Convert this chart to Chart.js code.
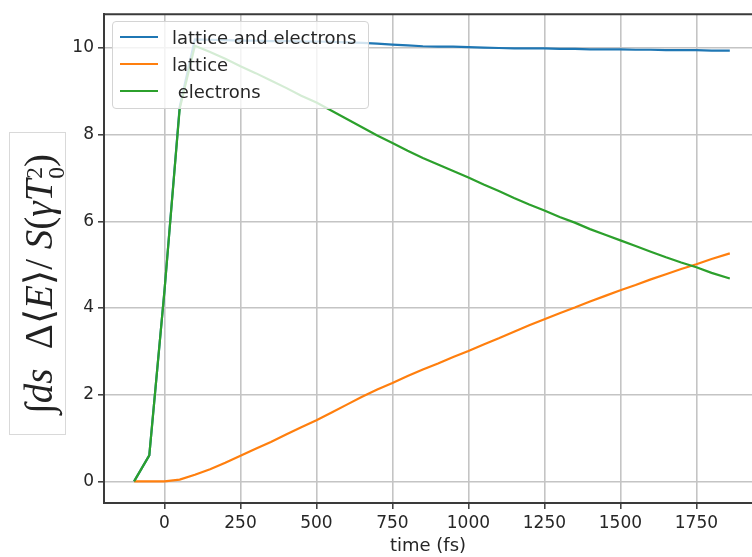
<!DOCTYPE html>
<html>
<head>
<meta charset="utf-8">
<script src="https://cdn.jsdelivr.net/npm/chart.js@4/dist/chart.umd.min.js"></script>
<style>
  html, body { margin: 0; padding: 0; background: #fff; overflow: hidden; }
  #wrap { position: relative; width: 752px; height: 557px; }
  #ylabel-box {
    position: absolute; left: 9px; top: 132px; width: 55px; height: 301px;
    border: 1px solid #d9d9d9; background: #fff;
  }
  #ylabel {
    position: absolute; left: 50%; top: 50%; width: 301px; height: 55px;
    transform: translate(-50%, -50%) rotate(-90deg);
    text-align: center; line-height: 55px; white-space: nowrap;
    font-family: "Liberation Serif", "DejaVu Serif", serif; font-size: 39px; color: #222;
  }
  #ylabel i { font-style: italic; }
  .supsub {
    display: inline-flex; flex-direction: column; vertical-align: 0.42em;
    line-height: 0.95; font-size: 0.6em; text-align: left; margin-left: 1px;
  }
  #legend {
    position: absolute; left: 112px; top: 21px; width: 255px; height: 86px;
    background: rgba(255,255,255,0.8); border: 1px solid #d4d4d4; border-radius: 4px;
    font-family: "DejaVu Sans", sans-serif; font-size: 18px; color: #262626;
  }
  .row { position: absolute; left: 0; height: 27px; line-height: 27px; white-space: pre; }
  .row .swatch { position: absolute; left: 7px; top: 12px; width: 38px; height: 2px; }
  .row .txt { position: absolute; left: 59px; top: 0; }
</style>
</head>
<body>
<div id="wrap">
  <canvas id="chart" width="752" height="557"></canvas>
  <div id="ylabel-box">
    <div id="ylabel">∫<i>ds</i>&nbsp; Δ⟨<i>E</i>⟩/ <i>S</i>(<i>γT</i><span class="supsub"><span>2</span><span>0</span></span>)</div>
  </div>
  <div id="legend"></div>
</div>
<script>
// time axis (fs)
const TIME = [-100, -50, 0, 50, 100, 150, 200, 250, 300, 350, 400, 450, 500, 550, 600, 650,
  700, 750, 800, 850, 900, 950, 1000, 1050, 1100, 1150, 1200, 1250, 1300, 1350, 1400, 1450,
  1500, 1550, 1600, 1650, 1700, 1750, 1800, 1860];

const BOTH = [0, 0.6, 4.4, 8.64, 10.2, 10.19, 10.18, 10.17, 10.17, 10.16, 10.16, 10.15, 10.15,
  10.14, 10.13, 10.12, 10.10, 10.08, 10.06, 10.04, 10.03, 10.03, 10.02, 10.01, 10.0, 9.99,
  9.99, 9.99, 9.98, 9.98, 9.97, 9.97, 9.97, 9.96, 9.96, 9.95, 9.95, 9.95, 9.94, 9.94];

const LATTICE = [0, 0, 0, 0.04, 0.15, 0.28, 0.43, 0.59, 0.75, 0.91, 1.08, 1.25, 1.41, 1.59,
  1.77, 1.95, 2.12, 2.27, 2.43, 2.58, 2.72, 2.87, 3.01, 3.16, 3.30, 3.45, 3.60, 3.74, 3.88,
  4.01, 4.15, 4.28, 4.41, 4.53, 4.66, 4.78, 4.90, 5.01, 5.13, 5.26];

const ELECTRONS = [0, 0.6, 4.4, 8.6, 10.05, 9.91, 9.75, 9.58, 9.42, 9.25, 9.08, 8.90, 8.74,
  8.55, 8.36, 8.17, 7.98, 7.81, 7.63, 7.46, 7.31, 7.16, 7.01, 6.85, 6.70, 6.54, 6.39, 6.25,
  6.10, 5.97, 5.82, 5.69, 5.56, 5.43, 5.30, 5.17, 5.05, 4.94, 4.81, 4.68];

const LABELS = ["lattice and electrons", "lattice", " electrons"];
const COLORS = ["#1f77b4", "#ff7f0e", "#2ca02c"];
const X_TICKS = [0, 250, 500, 750, 1000, 1250, 1500, 1750];
const Y_TICKS = [0, 2, 4, 6, 8, 10];

const SPINE = "#3a3a3a";
const GRID = "#c4c4c4";
const TICK_FONT = { family: "DejaVu Sans", size: 17 };

function series(values) {
  return TIME.map((t, i) => ({ x: t, y: values[i] }));
}

// matplotlib-like top spine (the right one is cropped off in the reference)
const topSpine = {
  id: 'topSpine',
  afterDraw(chart) {
    const { ctx, chartArea } = chart;
    ctx.save();
    ctx.strokeStyle = SPINE;
    ctx.lineWidth = 2;
    ctx.beginPath();
    ctx.moveTo(chartArea.left - 1, chartArea.top);
    ctx.lineTo(chartArea.right, chartArea.top);
    ctx.stroke();
    ctx.restore();
  }
};

const seriesList = [BOTH, LATTICE, ELECTRONS];
const datasets = seriesList.map((vals, i) => ({
  label: LABELS[i],
  data: series(vals),
  borderColor: COLORS[i],
  borderWidth: 2.2,
  pointRadius: 0,
  fill: false,
  tension: 0,
  order: 2 - i   // electrons drawn on top
}));

new Chart(document.getElementById("chart"), {
  type: 'line',
  data: { datasets },
  plugins: [topSpine],
  options: {
    responsive: false,
    animation: false,
    layout: { padding: { left: 0, top: 13, right: 0, bottom: 0 } },
    plugins: { legend: { display: false }, tooltip: { enabled: false } },
    scales: {
      x: {
        type: 'linear', min: -199, max: 1933,
        afterBuildTicks: s => { s.ticks = X_TICKS.map(v => ({ value: v })); },
        afterFit: s => { s.height = 54; },
        ticks: { font: TICK_FONT, color: "#262626", padding: 4, maxRotation: 0,
                 callback: v => String(v) },
        grid: { color: GRID, lineWidth: 1.6, tickColor: SPINE, tickLength: 6, tickWidth: 1.5 },
        border: { color: SPINE, width: 2 },
        title: { display: true, text: "time (fs)", font: { family: "DejaVu Sans", size: 18 },
                 color: "#262626", padding: { top: 0, bottom: 0 } }
      },
      y: {
        type: 'linear', min: -0.5, max: 10.78,
        afterBuildTicks: s => { s.ticks = Y_TICKS.map(v => ({ value: v })); },
        afterFit: s => { s.width = 104; },
        ticks: { font: TICK_FONT, color: "#262626", padding: 4, callback: v => String(v) },
        grid: { color: GRID, lineWidth: 1.6, tickColor: SPINE, tickLength: 6, tickWidth: 1.5 },
        border: { color: SPINE, width: 2 }
      }
    }
  }
});

// legend inside the plot, like matplotlib's 'best' placement
const legend = document.getElementById("legend");
legend.innerHTML = LABELS.map((lab, i) =>
  `<div class="row" style="top:${2 + i * 27}px">` +
  `<span class="swatch" style="background:${COLORS[i]}"></span>` +
  `<span class="txt">${lab}</span></div>`).join('');
</script>
</body>
</html>
